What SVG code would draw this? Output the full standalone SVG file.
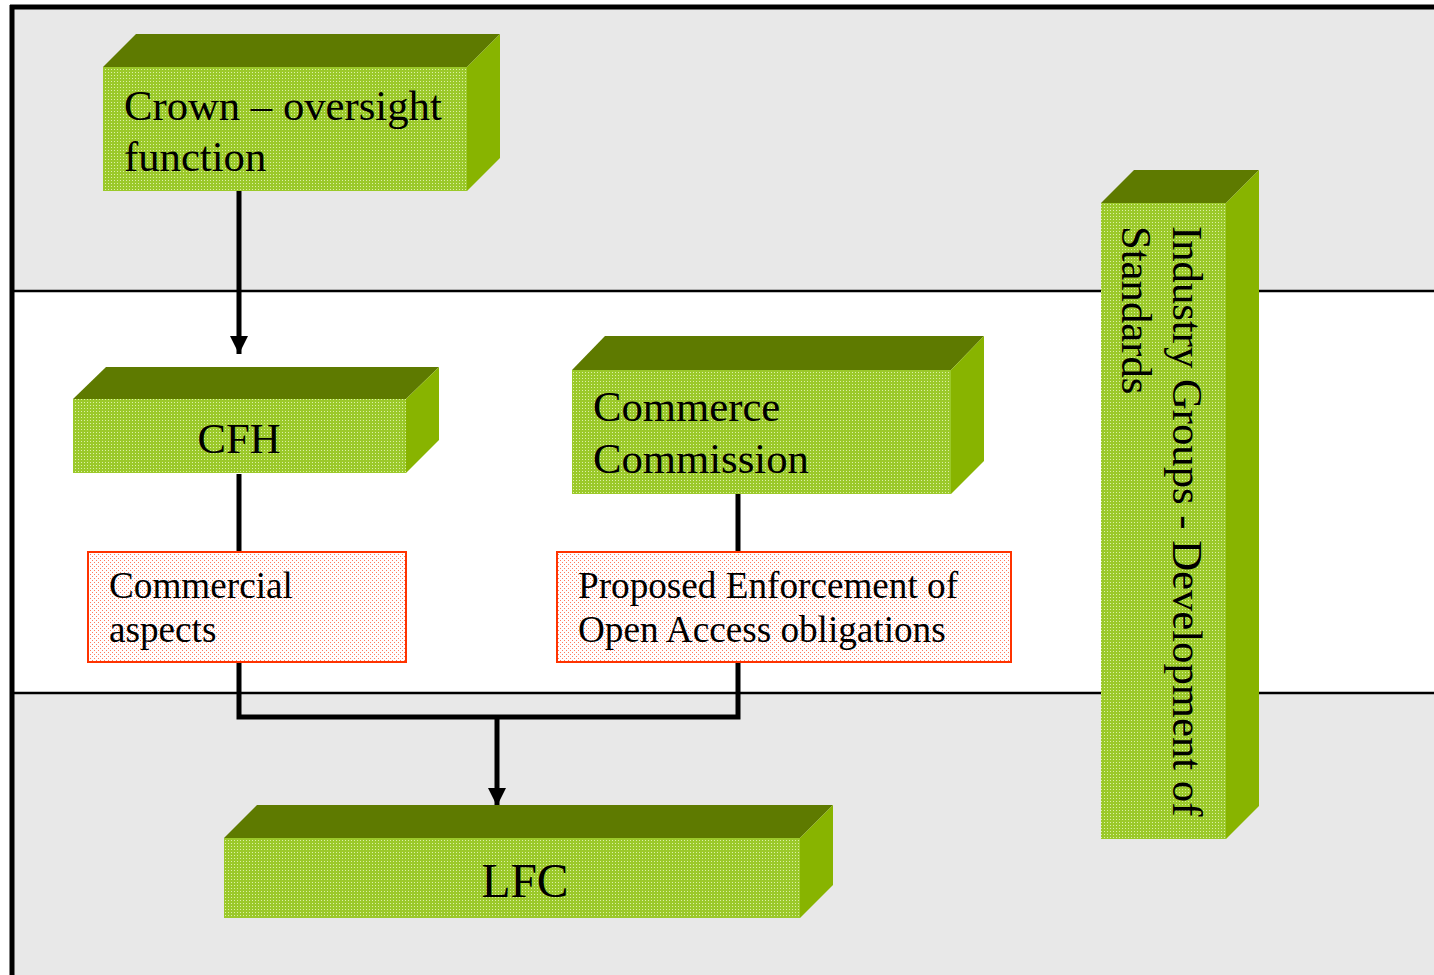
<svg xmlns="http://www.w3.org/2000/svg" width="1434" height="975" viewBox="0 0 1434 975">
<defs>
<pattern id="gdots" width="3" height="3" patternUnits="userSpaceOnUse"><rect width="3" height="3" fill="#9bc92a"/><rect width="1" height="1" fill="#ddf0a8"/></pattern>
<pattern id="rdots" width="4" height="4" patternUnits="userSpaceOnUse"><rect width="4" height="4" fill="#ffffff"/><rect width="1" height="1" fill="#ff7a60"/><rect x="2" y="2" width="1" height="1" fill="#ff7a60"/></pattern>
<marker id="arr" viewBox="0 0 18 18" refX="18" refY="9" markerWidth="18" markerHeight="19" markerUnits="userSpaceOnUse" orient="auto"><path d="M0,0 L18,9 L0,18 Z" fill="#000"/></marker>
</defs>
<style>
.front{fill:url(#gdots);}
.top{fill:#5e7a00;}
.side{fill:#88b400;}
.red{fill:url(#rdots);stroke:#ff3300;stroke-width:2;}
.t{font-family:"Liberation Serif","Times New Roman",serif;fill:#000;}
.big{font-size:42.7px;}
.mid{font-size:37.2px;}
.con{fill:none;stroke:#000;stroke-width:5;}
.sep{stroke:#000;stroke-width:2.5;}
</style>
<g id="background">
<rect x="0" y="0" width="1434" height="975" fill="#ffffff"/>
<rect x="14" y="9" width="1420" height="282" fill="#e8e8e8"/>
<rect x="14" y="693" width="1420" height="282" fill="#e8e8e8"/>
<line class="sep" x1="14" y1="291" x2="1434" y2="291"/>
<line class="sep" x1="14" y1="693" x2="1434" y2="693"/>
<line x1="10" y1="7" x2="1434" y2="7" stroke="#000" stroke-width="5"/>
<line x1="12" y1="5" x2="12" y2="975" stroke="#000" stroke-width="5"/>
</g>
<g id="connectors">
<line class="con" x1="239" y1="191" x2="239" y2="354" marker-end="url(#arr)"/>
<line class="con" x1="239" y1="474" x2="239" y2="552"/>
<line class="con" x1="738" y1="494" x2="738" y2="552"/>
<polyline class="con" points="239,662 239,717 738,717 738,662"/>
<line class="con" x1="497" y1="717" x2="497" y2="806" marker-end="url(#arr)"/>
</g>
<g id="crown">
<polygon class="top" points="103,67 136,34 500,34 467,67"/>
<polygon class="side" points="467,67 500,34 500,158 467,191"/>
<rect class="front" x="103" y="67" width="364" height="124"/>
<text class="t big" x="124" y="120">Crown – oversight</text>
<text class="t big" x="124" y="171">function</text>
</g>
<g id="cfh">
<polygon class="top" points="73,399 106,367 439,367 406,399"/>
<polygon class="side" points="406,399 439,367 439,440 406,473"/>
<rect class="front" x="73" y="399" width="333" height="74"/>
<text class="t big" x="239" y="453" text-anchor="middle">CFH</text>
</g>
<g id="commerce">
<polygon class="top" points="572,370 605,336 984,336 951,370"/>
<polygon class="side" points="951,370 984,336 984,461 951,494"/>
<rect class="front" x="572" y="370" width="379" height="124"/>
<text class="t big" x="593" y="421">Commerce</text>
<text class="t big" x="593" y="473">Commission</text>
</g>
<g id="commercial">
<rect class="red" x="88" y="552" width="318" height="110"/>
<text class="t mid" x="109" y="598">Commercial</text>
<text class="t mid" x="109" y="642">aspects</text>
</g>
<g id="proposed">
<rect class="red" x="557" y="552" width="454" height="110"/>
<text class="t mid" x="578" y="598">Proposed Enforcement of</text>
<text class="t mid" x="578" y="642">Open Access obligations</text>
</g>
<g id="lfc">
<polygon class="top" points="224,838 257,805 833,805 800,838"/>
<polygon class="side" points="800,838 833,805 833,885 800,918"/>
<rect class="front" x="224" y="838" width="576" height="80"/>
<text class="t" font-size="47.5" x="525" y="897" text-anchor="middle">LFC</text>
</g>
<g id="industry">
<polygon class="top" points="1101,203 1134,170 1259,170 1226,203"/>
<polygon class="side" points="1226,203 1259,170 1259,806 1226,839"/>
<rect class="front" x="1101" y="203" width="125" height="636"/>
<text class="t big" transform="translate(1173,226) rotate(90)"><tspan x="0" y="0">Industry Groups - Development of</tspan><tspan x="0" y="51">Standards</tspan></text>
</g>
</svg>
